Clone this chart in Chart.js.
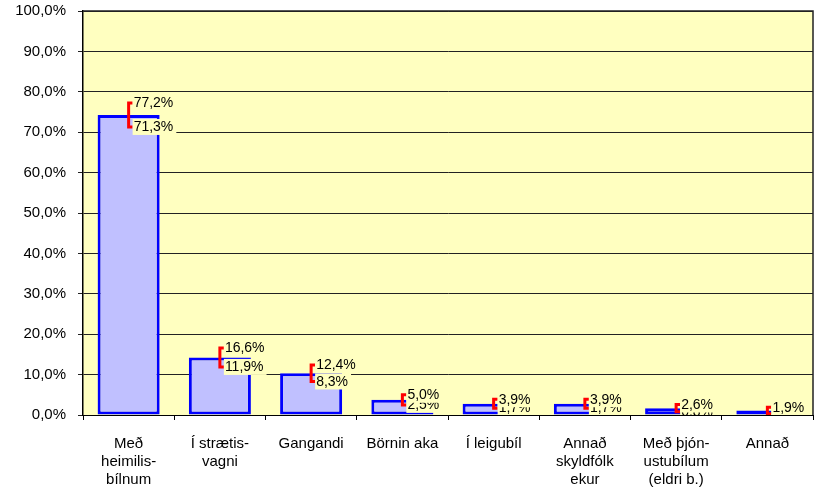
<!DOCTYPE html>
<html>
<head>
<meta charset="utf-8">
<script src="https://cdn.jsdelivr.net/npm/chart.js@4"></script>
<style>
  html, body { margin: 0; padding: 0; background: #fff; }
  #wrap { width: 815px; height: 491px; }
</style>
</head>
<body>
<div id="wrap"><canvas id="chart" width="815" height="491"></canvas></div>
<script>
// Ferðamáti - hlutfall með óvissumörkum
const categories = [
  ["Með", "heimilis-", "bílnum"],
  ["Í strætis-", "vagni"],
  "Gangandi",
  "Börnin aka",
  "Í leigubíl",
  ["Annað", "skyldfólk", "ekur"],
  ["Með þjón-", "ustubílum", "(eldri b.)"],
  "Annað"
];
const shares = [74.25, 14.25, 10.35, 3.75, 2.8, 2.8, 1.7, 1.1];
const upperBounds = [77.2, 16.6, 12.4, 5.0, 3.9, 3.9, 2.6, 1.9];
const lowerBounds = [71.3, 11.9, 8.3, 2.5, 1.7, 1.7, 0.8, 0.3];
const yTicks = [0, 10, 20, 30, 40, 50, 60, 70, 80, 90, 100];

const PLOT_BG = "#FFFFC0";
const FONT = "'Liberation Sans', Arial, sans-serif";

function pct(v) {
  return v.toFixed(1).replace(".", ",") + "%";
}

// plot area fill + frame
const plotFrame = {
  id: "plotFrame",
  beforeDraw(chart) {
    const { ctx, chartArea: a } = chart;
    ctx.save();
    ctx.fillStyle = PLOT_BG;
    ctx.fillRect(a.left, a.top, a.right - a.left, a.bottom - a.top);
    ctx.restore();
  },
  afterDraw(chart) {
    const { ctx, chartArea: a } = chart;
    ctx.save();
    ctx.strokeStyle = "#222";
    ctx.lineWidth = 1.5;
    ctx.beginPath();
    ctx.moveTo(a.left, a.top);
    ctx.lineTo(a.right, a.top);
    ctx.lineTo(a.right, a.bottom);
    ctx.stroke();
    ctx.restore();
  }
};

function drawBoxedLabel(ctx, text, x, y) {
  const w = ctx.measureText(text).width;
  ctx.fillStyle = PLOT_BG;
  ctx.fillRect(x - 1, y - 8, w + 4, 16);
  ctx.fillStyle = "#000";
  ctx.fillText(text, x, y + 0.5);
}

// red brackets at bar centre + boxed bound labels
const errorBars = {
  id: "errorBars",
  afterDatasetsDraw(chart) {
    const { ctx, chartArea: a, scales: { x, y } } = chart;
    ctx.save();
    ctx.beginPath();
    ctx.rect(a.left, a.top, a.right - a.left, a.bottom - a.top);
    ctx.clip();

    ctx.strokeStyle = "#FF0000";
    ctx.lineWidth = 3;
    shares.forEach((_, i) => {
      const cx = x.getPixelForValue(i);
      const yt = y.getPixelForValue(upperBounds[i]);
      const yb = y.getPixelForValue(lowerBounds[i]);
      ctx.beginPath();
      ctx.moveTo(cx + 4, yt);
      ctx.lineTo(cx, yt);
      ctx.lineTo(cx, yb);
      ctx.lineTo(cx + 4, yb);
      ctx.stroke();
    });

    ctx.font = "14px " + FONT;
    ctx.textBaseline = "middle";
    ctx.textAlign = "left";
    // lower labels first, upper ones sit on top where they overlap
    shares.forEach((_, i) => {
      const cx = x.getPixelForValue(i);
      drawBoxedLabel(ctx, pct(lowerBounds[i]), cx + 5, y.getPixelForValue(lowerBounds[i]));
    });
    shares.forEach((_, i) => {
      const cx = x.getPixelForValue(i);
      drawBoxedLabel(ctx, pct(upperBounds[i]), cx + 5, y.getPixelForValue(upperBounds[i]));
    });
    ctx.restore();
  }
};

new Chart(document.getElementById("chart"), {
  type: "bar",
  data: {
    labels: categories,
    datasets: [{
      data: shares,
      backgroundColor: "#C0C0FF",
      borderColor: "#0000FF",
      borderWidth: 3,
      borderSkipped: false,
      barPercentage: 0.68,
      categoryPercentage: 1
    }]
  },
  options: {
    responsive: false,
    animation: false,
    layout: { padding: { left: 0, right: 2, top: 11, bottom: 0 } },
    plugins: { legend: { display: false }, tooltip: { enabled: false } },
    scales: {
      x: {
        offset: true,
        grid: {
          offset: true,
          drawOnChartArea: false,
          drawTicks: true,
          tickLength: 5,
          color: "#000"
        },
        border: { color: "#000", width: 1 },
        ticks: {
          color: "#000",
          padding: 15,
          maxRotation: 0,
          autoSkip: false,
          font: { family: FONT, size: 15, lineHeight: 1.2 }
        },
        afterFit(scale) { scale.height = 76; }
      },
      y: {
        min: 0,
        max: 100,
        afterBuildTicks(scale) { scale.ticks = yTicks.map(v => ({ value: v })); },
        grid: {
          color: "#222",
          lineWidth: 1,
          drawTicks: true,
          tickLength: 5
        },
        border: { color: "#000", width: 1.5 },
        ticks: {
          color: "#000",
          padding: 12,
          font: { family: FONT, size: 15 },
          callback: v => pct(v)
        },
        afterFit(scale) {
          scale.width = 83;
          scale.paddingTop = 0;
          scale.paddingBottom = 0;
        }
      }
    }
  },
  plugins: [plotFrame, errorBars]
});
</script>
</body>
</html>
